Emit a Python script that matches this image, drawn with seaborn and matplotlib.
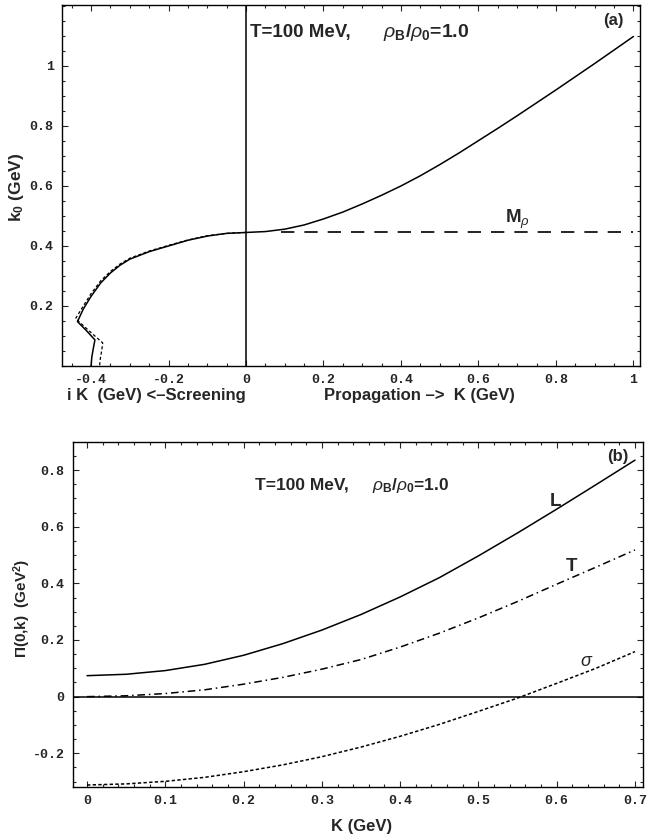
import numpy as np
import pandas as pd
import matplotlib
matplotlib.use('Agg')
import matplotlib.pyplot as plt
from matplotlib.ticker import MultipleLocator
import seaborn as sns

# Panel (a): dispersion k0(K); propagation branch K>0, screening branch plotted at negative iK
prop_K = [0.0, 0.05, 0.1, 0.15, 0.2, 0.25, 0.3, 0.35, 0.4, 0.45, 0.5,
          0.55, 0.6, 0.65, 0.7, 0.75, 0.8, 0.85, 0.9, 0.95, 1.0]
prop_k0 = [0.445, 0.448, 0.456, 0.47, 0.49, 0.513, 0.54, 0.569, 0.6, 0.634, 0.671,
           0.71, 0.751, 0.792, 0.834, 0.877, 0.92, 0.964, 1.008, 1.053, 1.098]

scr_K = [0.0, -0.05, -0.1, -0.15, -0.2, -0.25, -0.3, -0.325, -0.35, -0.375, -0.4, -0.42, -0.435,
         -0.412, -0.39, -0.394, -0.398, -0.40]
scr_k0 = [0.445, 0.442, 0.433, 0.419, 0.40, 0.381, 0.356, 0.336, 0.31, 0.277, 0.232, 0.19, 0.148,
          0.118, 0.087, 0.06, 0.03, 0.0]

scr2_K = [0.0, -0.05, -0.1, -0.15, -0.2, -0.25, -0.3, -0.325, -0.35, -0.375, -0.4, -0.42, -0.44,
          -0.405, -0.37, -0.372, -0.376, -0.378]
scr2_k0 = [0.445, 0.442, 0.434, 0.42, 0.402, 0.383, 0.359, 0.34, 0.315, 0.284, 0.241, 0.2, 0.158,
           0.117, 0.077, 0.055, 0.025, 0.0]

m_rho = 0.445
m_rho_K = [0.09, 1.0]

# Panel (b): Pi(0,k) for L, T, sigma
pi_K = [0.0, 0.05, 0.1, 0.15, 0.2, 0.25, 0.3, 0.35, 0.4, 0.45, 0.5, 0.55, 0.6, 0.65, 0.7]
pi_L = [0.074, 0.079, 0.092, 0.114, 0.146, 0.187, 0.235, 0.29, 0.352, 0.42, 0.497, 0.578, 0.662, 0.748, 0.835]
pi_T = [0.0, 0.003, 0.011, 0.024, 0.044, 0.068, 0.097, 0.131, 0.175, 0.224, 0.278, 0.336, 0.397, 0.457, 0.518]
pi_S = [-0.312, -0.308, -0.299, -0.285, -0.265, -0.241, -0.212, -0.178, -0.14, -0.098, -0.052,
        -0.005, 0.047, 0.1, 0.159]

a_xticks = [-0.4, -0.2, 0, 0.2, 0.4, 0.6, 0.8, 1]
a_xlabels = ['-0.4', '-0.2', '0', '0.2', '0.4', '0.6', '0.8', '1']
a_yticks = [0.2, 0.4, 0.6, 0.8, 1]
a_ylabels = ['0.2', '0.4', '0.6', '0.8', '1']
b_xticks = [0, 0.1, 0.2, 0.3, 0.4, 0.5, 0.6, 0.7]
b_xlabels = ['0', '0.1', '0.2', '0.3', '0.4', '0.5', '0.6', '0.7']
b_yticks = [-0.2, 0, 0.2, 0.4, 0.6, 0.8]
b_ylabels = ['-0.2', '0', '0.2', '0.4', '0.6', '0.8']

sns.set_style('ticks')
plt.rcParams['font.family'] = ['Liberation Sans', 'DejaVu Sans']
plt.rcParams['mathtext.fontset'] = 'custom'
plt.rcParams['mathtext.rm'] = 'Liberation Sans:bold'
plt.rcParams['mathtext.bf'] = 'Liberation Sans:bold'
plt.rcParams['mathtext.it'] = 'Liberation Sans:italic'

W, H = 647, 835
fig = plt.figure(figsize=(W / 100, H / 100), dpi=100)
ax1 = fig.add_axes([62 / W, 1 - 366 / H, (640 - 62) / W, (366 - 5) / H])
ax2 = fig.add_axes([73 / W, 1 - 787 / H, (643 - 73) / W, (787 - 442) / H])

lw = 1.1
# --- panel (a)
sns.lineplot(x=prop_K, y=prop_k0, ax=ax1, color='black', lw=lw, sort=False, estimator=None)
sns.lineplot(x=scr_K, y=scr_k0, ax=ax1, color='black', lw=lw, sort=False, estimator=None)
l2 = sns.lineplot(x=scr2_K, y=scr2_k0, ax=ax1, color='black', lw=0.9, sort=False, estimator=None).lines[-1]
l2.set_dashes((2.5, 1.8))
lm = sns.lineplot(x=m_rho_K, y=[m_rho, m_rho], ax=ax1, color='black', lw=1.2, sort=False, estimator=None).lines[-1]
lm.set_dashes((8, 6))
ax1.axvline(0, color='black', lw=1.1)

ax1.set_xlim(-0.475, 1.017)
ax1.set_ylim(0, 1.203)
ax1.set_xticks(a_xticks, a_xlabels)
ax1.set_yticks(a_yticks, a_ylabels)
ax1.xaxis.set_minor_locator(MultipleLocator(0.05))
ax1.yaxis.set_minor_locator(MultipleLocator(0.05))

ax1.text(0.01, 1.113, 'T=100 MeV,', fontsize=13.5, fontweight='bold', va='center')
ax1.text(0.354, 1.113, r'$\it{\rho}_{\mathrm{B}}/\it{\rho}_{\mathrm{0}}$=1.0', fontsize=14, fontweight='bold', va='center')
ax1.text(0.947, 1.153, '(a)', fontsize=12, fontweight='bold', ha='center', va='center')
ax1.text(0.669, 0.49, r'M$_{\it{\rho}}$', fontsize=13.5, fontweight='bold', va='center')

fig.text(17 / W, 1 - 187 / H, r'k$_{\mathrm{0}}$ (GeV)', rotation=90, fontsize=12.5, fontweight='bold', ha='center', va='center')
fig.text(67 / W, 1 - 395 / H, 'i K  (GeV) <\u2013Screening', fontsize=12, fontweight='bold', ha='left', va='center')
fig.text(324 / W, 1 - 395 / H, 'Propagation \u2013>  K (GeV)', fontsize=12, fontweight='bold', ha='left', va='center')

# --- panel (b)
sns.lineplot(x=pi_K, y=pi_L, ax=ax2, color='black', lw=lw, sort=False, estimator=None)
lt = sns.lineplot(x=pi_K, y=pi_T, ax=ax2, color='black', lw=lw, sort=False, estimator=None).lines[-1]
lt.set_dashes((5, 2.5, 1, 2.5))
ls = sns.lineplot(x=pi_K, y=pi_S, ax=ax2, color='black', lw=lw, sort=False, estimator=None).lines[-1]
ls.set_dashes((2.2, 1.5))
ax2.axhline(0, color='black', lw=1.1)

ax2.set_xlim(-0.0179, 0.7102)
ax2.set_ylim(-0.319, 0.899)
ax2.set_xticks(b_xticks, b_xlabels)
ax2.set_yticks(b_yticks, b_ylabels)
ax2.xaxis.set_minor_locator(MultipleLocator(0.02))
ax2.yaxis.set_minor_locator(MultipleLocator(0.05))

ax2.text(0.2146, 0.747, 'T=100 MeV,', fontsize=12.5, fontweight='bold', va='center')
ax2.text(0.364, 0.747, r'$\it{\rho}_{\mathrm{B}}/\it{\rho}_{\mathrm{0}}$=1.0', fontsize=12.5, fontweight='bold', va='center')
ax2.text(0.678, 0.847, '(b)', fontsize=12, fontweight='bold', ha='center', va='center')
ax2.text(0.598, 0.688, 'L', fontsize=13.5, fontweight='bold', ha='center', va='center')
ax2.text(0.619, 0.459, 'T', fontsize=13.5, fontweight='bold', ha='center', va='center')
ax2.text(0.638, 0.124, r'$\it{\sigma}$', fontsize=13, ha='center', va='center')

fig.text(22 / W, 1 - 608 / H, r'$\Pi$(0,k)  (GeV$^{\mathrm{2}}$)', rotation=90, fontsize=11, fontweight='bold', ha='center', va='center')
fig.text(362 / W, 1 - 826 / H, 'K (GeV)', fontsize=12, fontweight='bold', ha='center', va='center')

for ax in (ax1, ax2):
    ax.tick_params(which='both', direction='in', top=True, right=True, width=0.8, pad=6)
    ax.tick_params(which='major', length=4)
    ax.tick_params(which='minor', length=2)
    for sp in ax.spines.values():
        sp.set_linewidth(1.0)
        sp.set_color('black')
    for lab in ax.get_xticklabels() + ax.get_yticklabels():
        lab.set_family('Liberation Mono')
        lab.set_fontsize(9.5)
        lab.set_fontweight('bold')
    ax.set_xlabel('')
    ax.set_ylabel('')

fig.savefig('out.png', dpi=100)
